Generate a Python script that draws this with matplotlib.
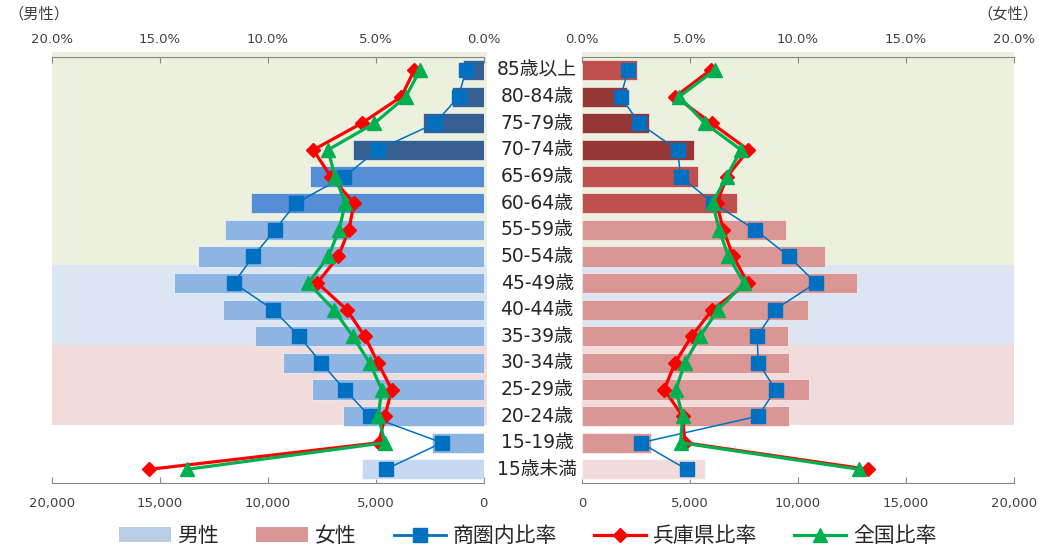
import matplotlib.pyplot as plt
from matplotlib.patches import Patch
from matplotlib.lines import Line2D
from matplotlib.transforms import blended_transform_factory

plt.rcParams['font.family'] = ['DejaVu Sans', 'Noto Sans CJK JP']

# 年齢階層（上から下）
ages = ["85歳以上", "80-84歳", "75-79歳", "70-74歳", "65-69歳", "60-64歳",
        "55-59歳", "50-54歳", "45-49歳", "40-44歳", "35-39歳", "30-34歳",
        "25-29歳", "20-24歳", "15-19歳", "15歳未満"]

# 人口（人）
male = [970, 1450, 2800, 6060, 8030, 10770, 11960, 13210,
        14350, 12070, 10570, 9290, 7960, 6500, 2380, 5630]
female = [2520, 2090, 3110, 5190, 5350, 7160, 9430, 11250,
          12720, 10480, 9550, 9570, 10510, 9570, 3170, 5680]

# 比率（%）
male_area = [0.82, 1.16, 2.25, 4.91, 6.45, 8.69, 9.66, 10.67,
             11.57, 9.75, 8.54, 7.52, 6.44, 5.28, 1.93, 4.54]
male_hyogo = [3.21, 3.81, 5.65, 7.89, 7.08, 6.00, 6.24, 6.73,
              7.70, 6.34, 5.51, 4.89, 4.26, 4.57, 4.85, 15.50]
male_japan = [2.95, 3.60, 5.06, 7.21, 6.88, 6.41, 6.69, 7.19,
              8.12, 6.94, 6.06, 5.28, 4.72, 4.88, 4.57, 13.75]
female_area = [2.13, 1.78, 2.64, 4.42, 4.56, 6.07, 8.02, 9.58,
               10.83, 8.93, 8.11, 8.16, 8.96, 8.16, 2.71, 4.84]
female_hyogo = [5.95, 4.31, 6.00, 7.70, 6.72, 6.23, 6.54, 7.00,
                7.67, 6.03, 5.07, 4.30, 3.80, 4.65, 4.76, 13.26]
female_japan = [6.15, 4.50, 5.69, 7.36, 6.69, 6.04, 6.35, 6.77,
                7.51, 6.31, 5.46, 4.76, 4.34, 4.65, 4.56, 12.84]

# 背景の帯（行の範囲）
bands = [(0, 7, "#EBF1DE"), (8, 10, "#DCE6F2"), (11, 13, "#F2DCDB")]

male_colors = (["#376092"] * 4 + ["#558ED5"] * 2 + ["#8EB4E3"] * 9 + ["#C6D9F1"])
female_colors = (["#C0504D"] + ["#953735"] * 3 + ["#C0504D"] * 2
                 + ["#D99694"] * 9 + ["#F2DCDB"])

axis_col = "#868686"
text_col = "#404040"

fig = plt.figure(figsize=(10.39, 5.49), dpi=100)
ax_l = fig.add_axes([0.0498, 0.1208, 0.4157, 0.7759])
ax_r = fig.add_axes([0.5604, 0.1208, 0.4152, 0.7759])

y = list(range(len(ages)))


def setup(ax, bars, colors, area, hyogo, japan, left):
    for top, bottom, col in bands:
        r = ax.axhspan(top - 0.67, bottom + 0.33, color=col, lw=0, zorder=0,
                       xmin=0, xmax=1.008 if left else 1.0)
        r.set_clip_on(False)
    ax.barh(y, bars, height=0.76, color=colors, edgecolor="white",
            linewidth=0.4, zorder=2)
    ax.set_ylim(len(ages) - 0.5, -0.5)
    ax.set_xlim((20000, 0) if left else (0, 20000))
    ax.set_xticks([0, 5000, 10000, 15000, 20000])
    ax.set_xticklabels(["0", "5,000", "10,000", "15,000", "20,000"])
    ax.set_yticks([])
    ax.patch.set_visible(False)
    for s in ["top", "left", "right"]:
        ax.spines[s].set_visible(False)
    ax.spines["bottom"].set_color(axis_col)
    ax.tick_params(axis="x", direction="in", length=4, color=axis_col,
                   labelsize=9.5, labelcolor=text_col, pad=10)

    tw = ax.twiny()
    tw.set_xlim((20, 0) if left else (0, 20))
    tw.set_ylim(ax.get_ylim())
    tw.set_xticks([0, 5, 10, 15, 20])
    tw.set_xticklabels([f"{v:.1f}%" for v in [0, 5, 10, 15, 20]])
    for s in ["bottom", "left", "right"]:
        tw.spines[s].set_visible(False)
    tw.spines["top"].set_color(axis_col)
    tw.tick_params(axis="x", direction="in", length=4, color=axis_col,
                   labelsize=9.5, labelcolor=text_col, pad=8)
    tw.plot(area, y, color="#0070C0", lw=1.1, marker="s", ms=10, zorder=3)
    tw.plot(hyogo, y, color="#FF0000", lw=2.3, marker="D", ms=7.5, zorder=4)
    tw.plot(japan, y, color="#00B050", lw=2.3, marker="^", ms=10.5, zorder=5)


setup(ax_l, male, male_colors, male_area, male_hyogo, male_japan, True)
setup(ax_r, female, female_colors, female_area, female_hyogo, female_japan, False)

trans = blended_transform_factory(fig.transFigure, ax_l.transData)
for i, a in enumerate(ages):
    fig.text(0.517, i, a, transform=trans, ha="center", va="center",
             fontsize=13.5, color="#262626")

fig.text(0.008, 0.975, "（男性）", fontsize=11, color=text_col, va="center",
         family=["Noto Sans CJK JP"])
fig.text(0.999, 0.975, "（女性）", fontsize=11, color=text_col, va="center",
         ha="right", family=["Noto Sans CJK JP"])

handles = [
    Patch(facecolor="#B9CDE5", edgecolor="none"),
    Patch(facecolor="#D99694", edgecolor="none"),
    Line2D([], [], color="#0070C0", lw=2, marker="s", ms=10),
    Line2D([], [], color="#FF0000", lw=2.3, marker="D", ms=7.5),
    Line2D([], [], color="#00B050", lw=2.3, marker="^", ms=10.5),
]
labels = ["男性", "女性", "商圏内比率", "兵庫県比率", "全国比率"]
fig.legend(handles, labels, loc="center",
           bbox_to_anchor=(0.5 + 8 / 1039, 1 - 536 / 549),
           ncol=5, frameon=False, fontsize=15, handlelength=2.5,
           handletextpad=0.3, columnspacing=1.8, labelcolor="#262626")

fig.savefig("out.png", dpi=100)
